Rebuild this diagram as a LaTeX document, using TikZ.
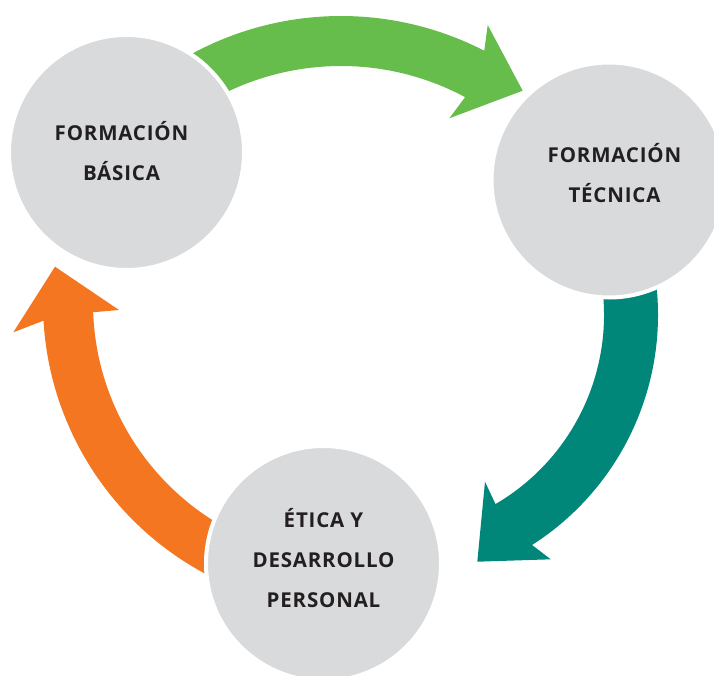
\documentclass[tikz,border=0pt]{standalone}
\usepackage{fontspec}
\newfontfamily\labfont[LetterSpace=4]{Open Sans}
\definecolor{cgreen}{RGB}{102,189,76}
\definecolor{cteal}{RGB}{0,135,122}
\definecolor{corange}{RGB}{244,118,33}
\definecolor{cgray}{RGB}{217,218,220}
\definecolor{ctext}{RGB}{35,31,32}
\tikzset{
  bubble/.style={circle, fill=cgray, draw=white, line width=4pt, minimum size=235pt, inner sep=0pt},
  lab/.style={align=center, text=ctext, font=\labfont\bfseries\fontsize{20.5}{40}\selectfont, inner sep=0pt, anchor=base},
}
\begin{document}
\begin{tikzpicture}[x=1pt,y=1pt]
\useasboundingbox (0,0) rectangle (714,-676);
\clip (0,0) rectangle (714,-676);
% green arrow
\fill[cgreen] ([shift={(341,-329)}]130:313pt) arc[start angle=130, end angle=62.76, radius=313pt]
  -- (487.7,-25) -- (522.7,-90.7) -- (449.3,-118.3)
  -- ([shift={(341,-329)}]61.84:263pt) arc[start angle=61.84, end angle=130, radius=263pt] -- cycle;
% teal arrow
\fill[cteal] ([shift={(385,-315)}]15:273pt) arc[start angle=15, end angle=-57.4, radius=273pt]
  -- (550.7,-559.3) -- (477.3,-561.7) -- (485,-481.7)
  -- ([shift={(385,-315)}]-59.7:219pt) arc[start angle=-59.7, end angle=15, radius=219pt] -- cycle;
% orange arrow
\fill[corange] ([shift={(350,-303)}]255:307pt) arc[start angle=255, end angle=183.3, radius=307pt]
  -- (13.3,-332.3) -- (55,-266.7) -- (119,-310)
  -- ([shift={(350,-303)}]182.06:257pt) arc[start angle=182.06, end angle=255, radius=257pt] -- cycle;
% circles
\node[bubble] (c1) at (126.5,-152.5) {};
\node[bubble] (c2) at (609,-180) {};
\node[bubble] (c3) at (323.5,-563.5) {};
% labels (anchored at the baseline of the last line)
\node[lab] (t1) at (121.5,-180.7) {FORMACIÓN\\BÁSICA};
\node[lab] (t2) at (614.5,-202.7) {FORMACIÓN\\TÉCNICA};
\node[lab] (t3) at (323.5,-607) {ÉTICA Y\\DESARROLLO\\PERSONAL};
\end{tikzpicture}
\end{document}
